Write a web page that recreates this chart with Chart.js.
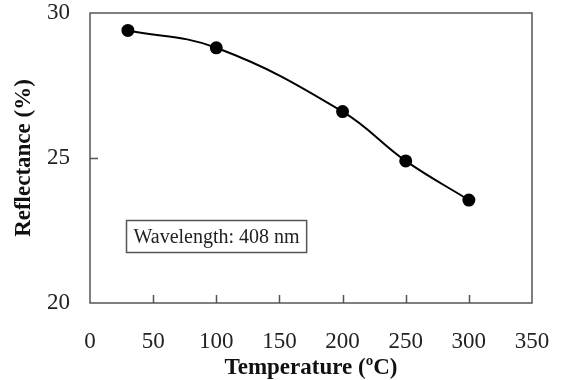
<!DOCTYPE html>
<html>
<head>
<meta charset="utf-8">
<script src="https://cdn.jsdelivr.net/npm/chart.js@4"></script>
<style>
  html, body { margin: 0; padding: 0; background: #fff; }
  #wrap { width: 561px; height: 380px; }
</style>
</head>
<body>
<div id="wrap"><canvas id="reflChart"></canvas></div>
<script>
// Reflectance vs temperature at 408 nm
const temperatures = [30, 100, 200, 250, 300];
const reflectance = [29.4, 28.8, 26.6, 24.9, 23.55];
const xTicks = [0, 50, 100, 150, 200, 250, 300, 350];
const yTicks = [20, 25, 30];
const noteText = 'Wavelength: 408 nm';

const FONT = "'Liberation Serif', 'Times New Roman', serif";

// frame around plot, inward tick marks and the text box
const framePlugin = {
    id: 'frame',
    afterDraw(chart) {
        const ctx = chart.ctx;
        const a = chart.chartArea;
        const xs = chart.scales.x, ys = chart.scales.y;
        ctx.save();
        ctx.strokeStyle = '#555';
        ctx.lineWidth = 1.5;
        ctx.strokeRect(a.left, a.top, a.right - a.left, a.bottom - a.top);
        ctx.beginPath();
        xTicks.slice(1, -1).forEach(v => {
            const px = Math.round(xs.getPixelForValue(v)) + 0.5;
            ctx.moveTo(px, a.bottom);
            ctx.lineTo(px, a.bottom - 8);
        });
        yTicks.slice(1, -1).forEach(v => {
            const py = Math.round(ys.getPixelForValue(v)) + 0.5;
            ctx.moveTo(a.left, py);
            ctx.lineTo(a.left + 8, py);
        });
        ctx.stroke();

        // note box
        ctx.font = '20px ' + FONT;
        const w = ctx.measureText(noteText).width + 14;
        const bx = Math.round(xs.getPixelForValue(28.5)) + 0.5;
        const by = Math.round(ys.getPixelForValue(22.86)) + 0.5;
        ctx.lineWidth = 1.5;
        ctx.strokeRect(bx, by, w, 32);
        ctx.fillStyle = '#222';
        ctx.textBaseline = 'middle';
        ctx.fillText(noteText, bx + 7, by + 17);
        ctx.restore();
    }
};

new Chart(document.getElementById('reflChart').getContext('2d'), {
    type: 'scatter',
    data: {
        datasets: [{
            data: temperatures.map((t, i) => ({x: t, y: reflectance[i]})),
            showLine: true,
            borderColor: '#000',
            backgroundColor: '#000',
            borderWidth: 2,
            pointRadius: 5.5,
            pointHoverRadius: 5.5,
            tension: 0.4
        }]
    },
    options: {
        responsive: true,
        maintainAspectRatio: false,
        animation: false,
        layout: { padding: { top: 13, right: 29, left: 0, bottom: 0 } },
        plugins: { legend: { display: false }, tooltip: { enabled: false } },
        scales: {
            x: {
                type: 'linear',
                min: 0, max: 350,
                afterFit: s => { s.height = 77; s.paddingLeft = 0; s.paddingRight = 0; },
                afterBuildTicks: s => { s.ticks = xTicks.map(v => ({value: v})); },
                grid: { display: false },
                border: { display: false },
                ticks: { color: '#222', padding: 17, font: { family: FONT, size: 23 } },
                title: {
                    display: true,
                    text: 'Temperature (ºC)',
                    color: '#111',
                    padding: { top: 0, bottom: -2 },
                    font: { family: FONT, size: 23, weight: 'bold' }
                }
            },
            y: {
                min: 20, max: 30,
                afterFit: s => { s.width = 90; s.paddingTop = 0; s.paddingBottom = 0; },
                afterBuildTicks: s => { s.ticks = yTicks.map(v => ({value: v})); },
                grid: { display: false },
                border: { display: false },
                ticks: { color: '#222', padding: 12, font: { family: FONT, size: 23 } },
                title: {
                    display: true,
                    text: 'Reflectance (%)',
                    color: '#111',
                    padding: { top: 10, bottom: 10 },
                    font: { family: FONT, size: 23, weight: 'bold' }
                }
            }
        }
    },
    plugins: [framePlugin]
});
</script>
</body>
</html>
